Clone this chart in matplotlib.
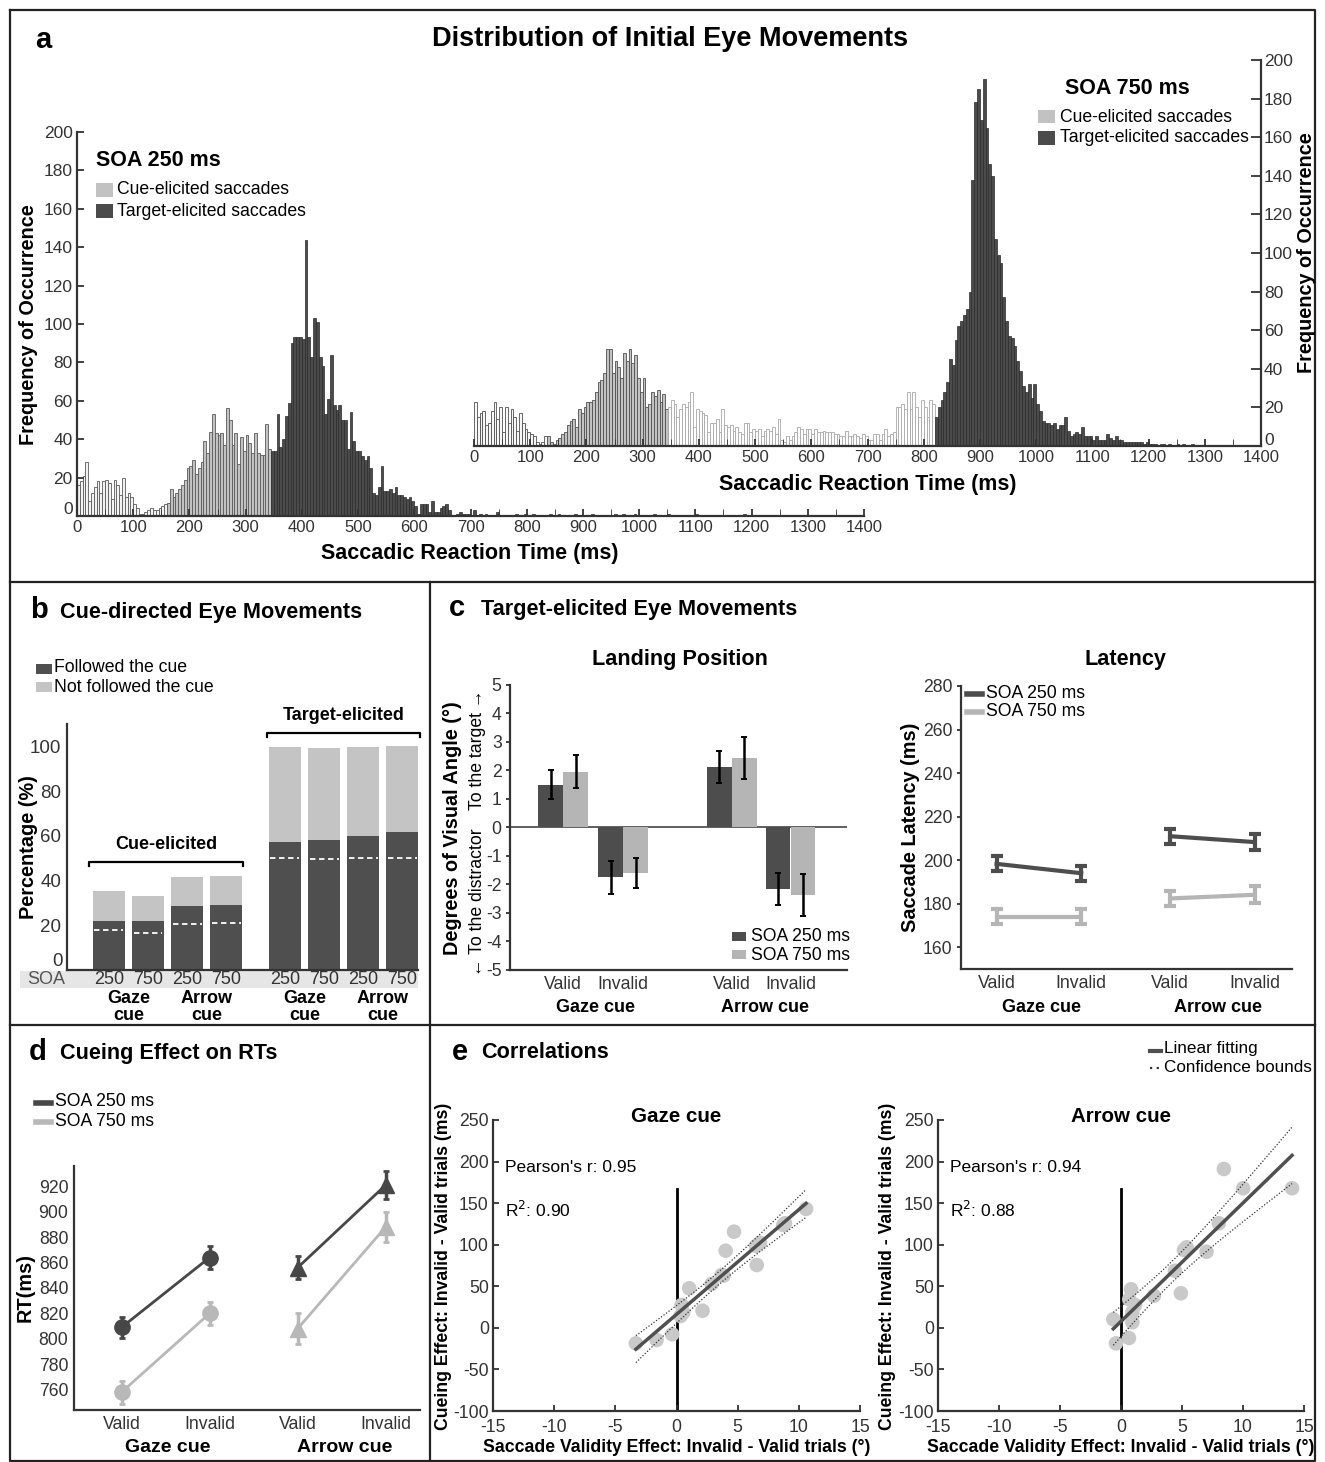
import numpy as np
import matplotlib.pyplot as plt
from matplotlib.patches import Rectangle
from matplotlib.lines import Line2D
from matplotlib.transforms import blended_transform_factory as blend

plt.rcParams['font.family'] = ['Liberation Sans', 'DejaVu Sans']
plt.rcParams['axes.unicode_minus'] = False
plt.rcParams['axes.linewidth'] = 1.6
plt.rcParams['axes.edgecolor'] = '#333333'
plt.rcParams['xtick.color'] = '#333333'
plt.rcParams['ytick.color'] = '#333333'
plt.rcParams['xtick.major.width'] = 1.3
plt.rcParams['ytick.major.width'] = 1.3

W, H = 1325, 1462
DARK = '#4b4b4b'
LIGHT = '#c2c2c2'
TXT = '#333333'

# =========================
# a: saccade latency histograms (5 ms bins)
# =========================
BIN = 5
soa250_cue = [16, 18, 21, 28, 8, 12, 15, 18, 12, 18, 19, 17, 9, 19, 16, 11, 20, 10, 12, 10,
              6, 4, 1, 1, 2, 3, 4, 3, 3, 4, 5, 6, 7, 14, 10, 12, 14, 16, 19, 25,
              26, 29, 22, 25, 28, 39, 33, 44, 53, 43, 42, 43, 37, 56, 50, 37, 43, 27, 41, 34,
              42, 38, 33, 43, 33, 32, 32, 48, 35]
soa250_target_start = 345
soa250_target = [34, 34, 53, 36, 40, 52, 59, 90, 93, 93, 93, 92, 144, 93, 83, 103, 101, 83, 78, 53,
                 61, 84, 58, 55, 58, 50, 50, 35, 54, 39, 34, 34, 31, 29, 31, 25, 12, 11, 15, 26,
                 13, 13, 14, 12, 15, 11, 11, 10, 9, 10, 8, 5, 1, 6, 6, 6, 2, 8, 2, 2,
                 4, 5, 6, 3, 0, 0, 1, 2, 1, 1, 1]
soa250_tail_ms = [705, 715, 725, 745, 780, 795, 810, 840, 855, 885, 915, 955, 970, 990, 1025, 1050, 1100, 1185]
soa250_tail_n = [3, 1, 1, 2, 1, 1, 1, 1, 1, 1, 1, 1, 1, 1, 1, 1, 1, 1]

soa750_cue = [23, 15, 17, 18, 11, 12, 18, 23, 14, 20, 7, 20, 12, 19, 15, 8, 17, 12, 9, 7,
              6, 5, 2, 1, 2, 5, 5, 2, 1, 3, 4, 6, 7, 11, 13, 14, 10, 19, 17, 20,
              23, 23, 24, 28, 33, 34, 38, 50, 50, 38, 44, 41, 35, 48, 44, 50, 43, 47, 35, 28,
              35, 20, 22, 28, 26, 29, 23, 27, 19]
soa750_late_start = 345
soa750_late = [20, 24, 22, 15, 19, 22, 20, 23, 28, 10, 19, 18, 17, 16, 7, 12, 12, 14, 7, 19,
               11, 10, 11, 8, 10, 7, 6, 12, 12, 7, 9, 8, 9, 5, 8, 9, 8, 10, 6, 14,
               3, 2, 5, 3, 5, 7, 10, 9, 6, 9, 9, 6, 9, 7, 7, 8, 7, 7, 7, 6,
               6, 5, 5, 8, 5, 5, 6, 5, 4, 6, 5, 3, 3, 6, 6, 3, 6, 9, 5, 6,
               7, 20, 20, 22, 19, 28, 19, 28, 20, 15, 24, 20, 15, 24, 22]
soa750_target_start = 820
soa750_target = [15, 20, 24, 28, 33, 45, 42, 55, 62, 65, 68, 71, 80, 138, 178, 185, 169, 190, 165, 146,
                 140, 107, 99, 95, 77, 65, 57, 56, 52, 44, 39, 31, 28, 32, 25, 32, 22, 18, 13, 12,
                 12, 11, 12, 9, 11, 11, 15, 8, 5, 6, 7, 6, 10, 5, 5, 5, 3, 5, 3, 3,
                 3, 6, 4, 3, 5, 3, 3, 2, 2, 2, 2, 2, 2, 2, 1, 2, 1, 1, 1, 0,
                 1, 1, 0, 1, 0, 0, 1, 0, 1, 0, 0, 1]

# =========================
# b: cue-directed eye movements
# =========================
soa_labels = ['250', '750', '250', '750', '250', '750', '250', '750']
followed = [21.8, 21.8, 28.7, 29.0, 57.2, 58.0, 59.9, 61.6]
total = [35.2, 33.0, 41.5, 42.0, 99.7, 99.1, 99.7, 100.0]
chance = [17.8, 16.6, 20.7, 21.0, 50.0, 49.7, 50.0, 50.1]

# =========================
# c: landing position and latency
# =========================
cond_labels = ['Valid', 'Invalid', 'Valid', 'Invalid']
land_250 = [1.50, -1.75, 2.13, -2.15]
land_250_err = [0.50, 0.58, 0.57, 0.57]
land_750 = [1.95, -1.60, 2.43, -2.37]
land_750_err = [0.58, 0.52, 0.74, 0.73]

lat_250 = [198.3, 194.0, 211.0, 208.3]
lat_250_err = [3.5, 3.5, 3.5, 3.5]
lat_750 = [174.1, 174.1, 182.4, 184.1]
lat_750_err = [3.4, 3.4, 3.6, 3.8]

# =========================
# d: cueing effect on RTs
# =========================
rt_250 = [809, 864, 856, 921]
rt_250_err = [8, 9, 9, 11]
rt_750 = [758, 820, 808, 888]
rt_750_err = [9, 9, 12, 12]

# =========================
# e: correlations
# =========================
gaze_x = [-3.32, -1.63, -0.35, 0.33, 0.55, 0.42, 1.04, 2.13, 2.87, 3.69, 3.85, 4.02, 4.70, 6.56, 6.50, 6.83, 8.73, 8.87, 10.59]
gaze_y = [-18.6, -14.6, -7.7, 14.3, 18.3, 27.5, 47.6, 20.6, 52.8, 63.6, 63.0, 92.8, 115.7, 75.6, 98.5, 102.4, 123.7, 125.8, 143.0]
arrow_x = [-0.63, -0.41, 0.65, 0.82, 0.68, 0.93, 0.93, 1.15, 2.70, 4.42, 4.91, 5.16, 5.38, 7.01, 8.02, 8.43, 10.01, 14.02]
arrow_y = [10.3, -18.6, -12.2, 46.4, 34.3, 18.7, 6.7, 27.5, 38.7, 68.7, 41.6, 93.7, 96.9, 91.6, 125.8, 191.1, 167.9, 167.9]
gaze_stats = ["Pearson's r: 0.95", "R$^2$: 0.90"]
arrow_stats = ["Pearson's r: 0.94", "R$^2$: 0.88"]

fig = plt.figure(figsize=(W / 100, H / 100), dpi=100)


def px_axes(x0, y0, x1, y1):
    return fig.add_axes([x0 / W, 1 - y1 / H, (x1 - x0) / W, (y1 - y0) / H])


def fy(y):
    return 1 - y / H


def px_text(x, y, s, size=12.5, weight='normal', ha='left', va='center', **kw):
    fig.text(x / W, fy(y), s, fontsize=size, fontweight=weight, ha=ha, va=va, **kw)


def px_rect(x0, y0, x1, y1, color, z=1):
    fig.add_artist(Rectangle((x0 / W, fy(y1)), (x1 - x0) / W, (y1 - y0) / H,
                             transform=fig.transFigure, facecolor=color, edgecolor='none', zorder=z))


def px_line(xs, ys, **kw):
    fig.add_artist(Line2D([x / W for x in xs], [fy(y) for y in ys], transform=fig.transFigure, **kw))


def only_spines(ax, keep):
    for side in ['top', 'right', 'left', 'bottom']:
        ax.spines[side].set_visible(side in keep)


def ticks_no_zero(ax, vals):
    ax.set_yticks(vals, [''] + [str(v) for v in vals[1:]])


# ---------- panel a ----------
ax = px_axes(77, 132, 864, 516)
t = np.arange(len(soa250_cue)) * BIN
ax.bar(t, soa250_cue, width=BIN, align='edge',
       color=['#f2f2f2' if v < 160 else LIGHT for v in t], edgecolor='#5a5a5a', linewidth=0.6)
t = soa250_target_start + np.arange(len(soa250_target)) * BIN
ax.bar(t, soa250_target, width=BIN, align='edge', color=DARK, edgecolor='#2a2a2a', linewidth=0.5)
ax.bar(soa250_tail_ms, soa250_tail_n, width=BIN, align='edge', color=DARK, edgecolor='#2a2a2a', linewidth=0.5)
ax.set_xlim(0, 1400)
ax.set_ylim(0, 200)
ax.set_xticks(range(0, 1401, 100))
ax.set_xticks(range(50, 1400, 100), minor=True)
ticks_no_zero(ax, list(range(0, 201, 20)))
ax.tick_params(axis='x', which='both', direction='in', length=5, labelsize=12, pad=3)
ax.tick_params(axis='y', direction='in', length=5, labelsize=12.5, pad=3)
only_spines(ax, ['left', 'bottom'])
ax.patch.set_alpha(0)
px_text(73, 510, '0', size=12.5, ha='right', color=TXT)

ax2 = px_axes(474, 60, 1261, 446)
t = np.arange(len(soa750_cue)) * BIN
ax2.bar(t, soa750_cue, width=BIN, align='edge',
        color=['#f7f7f7' if v < 130 else LIGHT for v in t], edgecolor='#505050', linewidth=0.6)
t = soa750_late_start + np.arange(len(soa750_late)) * BIN
ax2.bar(t, soa750_late, width=BIN, align='edge', color='white', edgecolor='#a8a8a8', linewidth=0.6)
t = soa750_target_start + np.arange(len(soa750_target)) * BIN
ax2.bar(t, soa750_target, width=BIN, align='edge', color=DARK, edgecolor='#2a2a2a', linewidth=0.5)
ax2.set_xlim(0, 1400)
ax2.set_ylim(0, 200)
ax2.set_xticks(range(0, 1401, 100))
ax2.set_xticks(range(50, 1400, 100), minor=True)
ticks_no_zero(ax2, list(range(0, 201, 20)))
ax2.yaxis.tick_right()
ax2.tick_params(axis='x', which='both', direction='in', length=5, labelsize=12, pad=3)
ax2.tick_params(axis='y', direction='in', length=7, labelsize=12.5, pad=2)
only_spines(ax2, ['right', 'bottom'])
ax2.patch.set_alpha(0)
px_text(1264, 440, '0', size=12.5, ha='left', color=TXT)

px_text(35, 40, 'a', size=21, weight='bold')
px_text(670, 39, 'Distribution of Initial Eye Movements', size=19.5, weight='bold', ha='center')
px_text(470, 554, 'Saccadic Reaction Time (ms)', size=15.5, weight='bold', ha='center')
px_text(868, 484, 'Saccadic Reaction Time (ms)', size=15.5, weight='bold', ha='center')
px_text(28, 325, 'Frequency of Occurrence', size=14.3, weight='bold', ha='center', rotation=90)
px_text(1306, 253, 'Frequency of Occurrence', size=14.3, weight='bold', ha='center', rotation=90)

px_text(96, 161, 'SOA 250 ms', size=15.5, weight='bold')
px_rect(96, 183, 113, 197, LIGHT)
px_text(117, 190, 'Cue-elicited saccades', size=12.7)
px_rect(96, 204, 113, 218, DARK)
px_text(117, 211, 'Target-elicited saccades', size=12.7)

px_text(1065, 88, 'SOA 750 ms', size=15.5, weight='bold')
px_rect(1038, 110, 1055, 123, LIGHT)
px_text(1060, 117, 'Cue-elicited saccades', size=12.7)
px_rect(1038, 131, 1055, 145, DARK)
px_text(1060, 138, 'Target-elicited saccades', size=12.7)

# ---------- panel b ----------
axb = px_axes(67, 724, 418, 970)
pos_b = np.array([0, 1, 2, 3, 4.5, 5.5, 6.5, 7.5])
axb.bar(pos_b, followed, 0.82, color='#4f4f4f')
axb.bar(pos_b, np.array(total) - np.array(followed), 0.82, bottom=followed, color='#c4c4c4')
axb.hlines(chance, pos_b - 0.37, pos_b + 0.37, colors='white', linestyles=(0, (3, 2)), linewidth=1.3)
axb.set_xlim(-1.07, 7.9)
axb.set_ylim(0, 110)
ticks_no_zero(axb, list(range(0, 101, 20)))
axb.set_xticks([])
axb.tick_params(axis='y', direction='in', length=0, labelsize=13.5, pad=4)
only_spines(axb, ['left', 'bottom'])
px_text(63, 961, '0', size=13.5, ha='right', color=TXT)

for x0, x1, yb, label in [(-0.5, 3.42, 48.3, 'Cue-elicited'), (4.04, 7.94, 106, 'Target-elicited')]:
    axb.plot([x0, x0, x1, x1], [yb - 2, yb, yb, yb - 2], color='black', lw=1.6, clip_on=False)
    axb.text((x0 + x1) / 2, yb + 4, label, ha='center', va='bottom', fontsize=13,
             fontweight='bold', clip_on=False)

px_rect(20, 971, 418, 988, '#e6e6e6', z=-1)
px_text(27, 979, 'SOA', size=13, color='#555555')
tb = blend(axb.transData, fig.transFigure)
for p, lab in zip(pos_b, soa_labels):
    axb.text(p, fy(980), lab, transform=tb, ha='center', va='center', fontsize=13, color=TXT)
for i, lab in zip([0, 2, 4, 6], ['Gaze\ncue', 'Arrow\ncue', 'Gaze\ncue', 'Arrow\ncue']):
    axb.text((pos_b[i] + pos_b[i + 1]) / 2, fy(1007), lab, transform=tb, ha='center', va='center',
             fontsize=13, fontweight='bold', linespacing=1.05)

px_text(30, 610, 'b', size=21, weight='bold')
px_text(60, 612, 'Cue-directed Eye Movements', size=15.6, weight='bold')
px_rect(36, 664, 52, 674, '#4f4f4f')
px_text(54, 668, 'Followed the cue', size=12.7)
px_rect(36, 682, 52, 692, '#c4c4c4')
px_text(54, 687, 'Not followed the cue', size=12.7)
px_text(28, 847, 'Percentage (%)', size=14.3, weight='bold', ha='center', rotation=90)

# ---------- panel c: landing position ----------
axc = px_axes(510, 685, 847, 970)
c_pos = np.array([0, 2.4, 6.75, 9.1])
axc.axhline(0, color='#444444', lw=1.2, zorder=1)
axc.bar(c_pos - 0.5, land_250, 0.98, color='#4d4d4d', zorder=2)
axc.bar(c_pos + 0.5, land_750, 0.98, color='#b5b5b5', zorder=2)
axc.errorbar(c_pos - 0.5, land_250, yerr=land_250_err, fmt='none', ecolor='black',
             elinewidth=1.8, capsize=2, capthick=1.4, zorder=3)
axc.errorbar(c_pos + 0.5, land_750, yerr=land_750_err, fmt='none', ecolor='black',
             elinewidth=1.8, capsize=2, capthick=1.4, zorder=3)
axc.set_xlim(-2.12, 11.36)
axc.set_ylim(-5, 5)
axc.set_yticks(range(-5, 6))
axc.set_xticks(c_pos, cond_labels)
axc.tick_params(axis='x', length=0, labelsize=12.7, pad=4)
axc.tick_params(axis='y', direction='out', length=3, labelsize=12.7, pad=3)
only_spines(axc, ['left', 'bottom'])

px_text(449, 608, 'c', size=21, weight='bold')
px_text(481, 610, 'Target-elicited Eye Movements', size=15.6, weight='bold')
px_text(680, 660, 'Landing Position', size=15.6, weight='bold', ha='center')
px_text(452, 828, 'Degrees of Visual Angle (°)', size=14.3, weight='bold', ha='center', rotation=90)
px_text(478, 750, 'To the target \u2192', size=12.7, ha='center', rotation=90)
px_text(478, 902, '\u2190 To the distractor', size=12.7, ha='center', rotation=90)
px_text(595, 1008, 'Gaze cue', size=13, weight='bold', ha='center')
px_text(765, 1008, 'Arrow cue', size=13, weight='bold', ha='center')
px_rect(732, 932, 746, 941, '#4d4d4d')
px_text(751, 936, 'SOA 250 ms', size=12.7)
px_rect(732, 950, 746, 959, '#b5b5b5')
px_text(751, 955, 'SOA 750 ms', size=12.7)

# ---------- panel c: latency ----------
axl = px_axes(961, 686, 1292, 969)
lat_pos = np.array([0, 1, 2.05, 3.05])
for vals, errs, col in [(lat_250, lat_250_err, '#4d4d4d'), (lat_750, lat_750_err, '#b5b5b5')]:
    for s in [slice(0, 2), slice(2, 4)]:
        axl.errorbar(lat_pos[s], vals[s], yerr=errs[s], color=col, lw=3, elinewidth=3,
                     capsize=4, capthick=3)
axl.set_xlim(-0.42, 3.49)
axl.set_ylim(150, 280)
axl.set_yticks(range(160, 281, 20))
axl.set_xticks(lat_pos, cond_labels)
axl.tick_params(axis='x', length=0, labelsize=12.7, pad=4)
axl.tick_params(axis='y', direction='out', length=3, labelsize=12.7, pad=3)
only_spines(axl, ['left', 'bottom'])

px_text(1125, 660, 'Latency', size=15.6, weight='bold', ha='center')
px_text(910, 827, 'Saccade Latency (ms)', size=14.3, weight='bold', ha='center', rotation=90)
px_text(1042, 1008, 'Gaze cue', size=13, weight='bold', ha='center')
px_text(1218, 1008, 'Arrow cue', size=13, weight='bold', ha='center')
px_line([967, 982], [694, 694], color='#4d4d4d', lw=4)
px_text(986, 693, 'SOA 250 ms', size=12.7)
px_line([967, 982], [712, 712], color='#b5b5b5', lw=4)
px_text(986, 712, 'SOA 750 ms', size=12.7)

# ---------- panel d ----------
axd = px_axes(74, 1166, 420, 1410)
rt_pos = np.arange(4)
for vals, errs, col in [(rt_250, rt_250_err, '#474747'), (rt_750, rt_750_err, '#b8b8b8')]:
    for s, mk, ms in [(slice(0, 2), 'o', 11), (slice(2, 4), '^', 12)]:
        axd.errorbar(rt_pos[s], vals[s], yerr=errs[s], color=col, lw=2, marker=mk, ms=ms,
                     elinewidth=2.5, capsize=2.5, capthick=2)
axd.set_xlim(-0.54, 3.39)
axd.set_ylim(744, 936)
axd.set_yticks(range(760, 921, 20))
axd.set_xticks(rt_pos, cond_labels)
axd.tick_params(axis='x', length=0, labelsize=12.7, pad=4)
axd.tick_params(axis='y', direction='out', length=0, labelsize=12.7, pad=4)
only_spines(axd, ['left', 'bottom'])

px_text(29, 1052, 'd', size=21, weight='bold')
px_text(60, 1053, 'Cueing Effect on RTs', size=15.6, weight='bold')
px_line([36, 51], [1103, 1103], color='#474747', lw=4)
px_text(55, 1102, 'SOA 250 ms', size=12.7)
px_line([36, 51], [1122, 1122], color='#b8b8b8', lw=4)
px_text(55, 1121, 'SOA 750 ms', size=12.7)
px_text(25, 1288, 'RT(ms)', size=14.3, weight='bold', ha='center', rotation=90)
px_text(168, 1448, 'Gaze cue', size=14, weight='bold', ha='center')
px_text(345, 1448, 'Arrow cue', size=14, weight='bold', ha='center')

# ---------- panel e ----------
T_CRIT = 2.11


def corr_panel(box, xs, ys, title, stats):
    axe = px_axes(*box)
    xs = np.array(xs)
    ys = np.array(ys)
    slope, icpt = np.polyfit(xs, ys, 1)
    n = len(xs)
    resid = ys - (slope * xs + icpt)
    s = np.sqrt(np.sum(resid ** 2) / (n - 2))
    xx = np.linspace(xs.min(), xs.max(), 100)
    half = T_CRIT * s * np.sqrt(1 / n + (xx - xs.mean()) ** 2 / np.sum((xs - xs.mean()) ** 2))
    fit = slope * xx + icpt
    axe.axvline(0, ymax=0.763, color='black', lw=2, zorder=1)
    axe.scatter(xs, ys, s=110, color='#c9c9c9', edgecolor='none', zorder=2)
    axe.plot(xx, fit, color='#505050', lw=2.5, zorder=3)
    axe.plot(xx, fit + half, color='#333333', lw=0.9, ls=(0, (1, 1.5)), zorder=3)
    axe.plot(xx, fit - half, color='#333333', lw=0.9, ls=(0, (1, 1.5)), zorder=3)
    axe.set_xlim(-15, 15)
    axe.set_ylim(-100, 250)
    axe.set_xticks(range(-15, 16, 5))
    axe.set_yticks(range(-100, 251, 50))
    axe.tick_params(direction='in', length=4, labelsize=12.7)
    axe.tick_params(axis='x', pad=6)
    axe.tick_params(axis='y', pad=3)
    only_spines(axe, ['left', 'bottom'])
    cx = (box[0] + box[2]) / 2
    px_text(cx, 1116, title, size=14.8, weight='bold', ha='center')
    px_text(box[0] + 12, 1167, stats[0], size=12.5)
    px_text(box[0] + 12, 1210, stats[1], size=12.5)
    px_text(cx, 1447, 'Saccade Validity Effect: Invalid - Valid trials (°)', size=12.7, weight='bold', ha='center')
    px_text(box[0] - 50, 1266, 'Cueing Effect: Invalid - Valid trials (ms)', size=12.7, weight='bold',
            ha='center', rotation=90)


corr_panel((493, 1120, 860, 1411), gaze_x, gaze_y, 'Gaze cue', gaze_stats)
corr_panel((938, 1120, 1304, 1411), arrow_x, arrow_y, 'Arrow cue', arrow_stats)

px_text(452, 1052, 'e', size=21, weight='bold')
px_text(481, 1053, 'Correlations', size=15.6, weight='bold')
px_line([1150, 1161], [1051, 1051], color='#505050', lw=3)
px_text(1164, 1049, 'Linear fitting', size=12.3)
px_line([1150, 1161], [1068, 1068], color='#333333', lw=1.6, ls=(0, (1, 2)))
px_text(1164, 1067, 'Confidence bounds', size=12.3)

# ---------- panel frames ----------
frame = dict(color='#222222', lw=1.6)
px_line([10, 1315, 1315, 10, 10], [10, 10, 1461, 1461, 10], **frame)
px_line([10, 1315], [582, 582], **frame)
px_line([10, 1315], [1025, 1025], **frame)
px_line([430, 430], [582, 1461], **frame)

fig.savefig('out.png', dpi=100)
